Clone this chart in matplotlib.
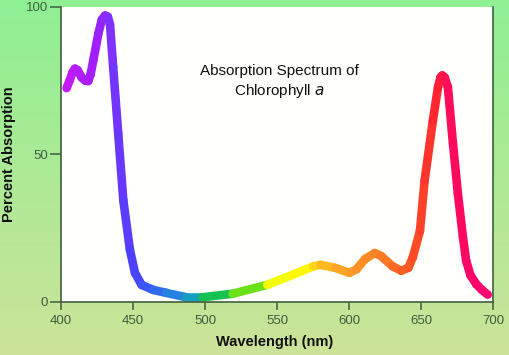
import numpy as np
import matplotlib
matplotlib.use("Agg")
import matplotlib.pyplot as plt
from matplotlib.collections import LineCollection
from matplotlib.colors import LinearSegmentedColormap, Normalize

plt.rcParams['font.family'] = ['Liberation Sans', 'DejaVu Sans']

# values
wavelength = [403.9, 406, 408, 409.7, 411.5, 414.3, 417, 418.9, 420.5, 422.4,
              425.9, 428.3, 430.5, 432.5, 434, 436.2, 439.7, 443.2, 447.8, 451.3,
              455.9, 464, 473, 487, 498, 519, 543, 560, 575, 580,
              590, 600, 605, 611, 617.6, 622, 630, 636, 641, 644,
              649, 652.2, 658, 661.5, 663.2, 664.5, 666.2, 668.4, 671.9, 675.3,
              678.8, 681, 684, 688, 692, 696]
absorption = [72.4, 75, 77.8, 79, 78.5, 76, 74.9, 74.8, 77, 81.8,
              90.8, 95.6, 97, 96.6, 94, 79.5, 57, 34.5, 17.6, 9.8,
              5.7, 4, 3, 1.5, 1.5, 2.7, 5.7, 9, 12, 12.5,
              11.5, 9.8, 11, 14.5, 16.5, 15.5, 12, 10.5, 11.5, 15,
              24, 41, 61.5, 72.7, 76, 76.7, 76, 72.7, 53.6, 36.7,
              22, 14, 9, 6, 4, 2.4]
x_ticks = [400, 450, 500, 550, 600, 650, 700]
y_ticks = [0, 50, 100]

# spectrum colours by wavelength
spec_nm = [400, 425, 435, 450, 465, 485, 495, 502, 515, 530, 545, 555, 574, 580, 600, 625, 645, 660, 670, 700]
spec_rgb = [(0.80, 0.10, 0.95), (0.62, 0.12, 1.0), (0.48, 0.20, 1.0), (0.30, 0.25, 1.0),
            (0.20, 0.38, 0.95), (0.12, 0.55, 0.85), (0.08, 0.65, 0.72), (0.05, 0.72, 0.45),
            (0.12, 0.80, 0.18), (0.40, 0.88, 0.10), (0.85, 0.96, 0.05), (1.0, 1.0, 0.0),
            (1.0, 0.95, 0.0), (1.0, 0.76, 0.12), (1.0, 0.62, 0.15), (1.0, 0.48, 0.15),
            (1.0, 0.32, 0.15), (1.0, 0.15, 0.18), (1.0, 0.05, 0.35), (1.0, 0.0, 0.45)]
pos = [(n - 400) / 300 for n in spec_nm]
cmap = LinearSegmentedColormap.from_list("spec", list(zip(pos, spec_rgb)))
norm = Normalize(400, 700)

fig = plt.figure(figsize=(5.1, 3.55), dpi=100)

# background gradient
bg = fig.add_axes([0, 0, 1, 1], zorder=-10)
top = np.array([0.56, 0.94, 0.58])
bot = np.array([0.80, 0.89, 0.60])
t = np.linspace(0, 1, 200)[:, None]
grad = top + (bot - top) * t
bg.imshow(np.repeat(grad[:, None, :], 2, axis=1), aspect='auto', extent=[0, 1, 0, 1])
bg.axis("off")

ax = fig.add_axes([0.1196, 0.1501, 0.848, 0.831])
ax.set_facecolor("#fffffb")

pts = np.column_stack([wavelength, absorption])
segs = np.stack([pts[:-1], pts[1:]], axis=1)
mids = (np.array(wavelength[:-1]) + np.array(wavelength[1:])) / 2
lc = LineCollection(segs, colors=cmap(norm(mids)), linewidths=6.2, capstyle='round', joinstyle='round')
ax.add_collection(lc)

ax.set_xlim(400, 700)
ax.set_ylim(0, 100)
ax.set_xticks(x_ticks)
ax.set_yticks(y_ticks)

axcol = "#3f5f3f"
for s in ["left", "bottom", "right"]:
    ax.spines[s].set_color(axcol)
    ax.spines[s].set_linewidth(1.2)
ax.spines["top"].set_visible(False)
ax.tick_params(axis="x", length=6, width=1.1, pad=3.5, colors=axcol, labelsize=9.5)
ax.tick_params(axis="y", length=8, width=1.1, pad=1.5, colors=axcol, labelsize=9.5)

ax.set_xlabel("Wavelength (nm)", fontsize=10.5, fontweight="bold", color="#111111")
ax.xaxis.set_label_coords(0.495, -0.113)
ax.set_ylabel("Percent Absorption", fontsize=10.5, fontweight="bold", color="#111111")
ax.yaxis.set_label_coords(-0.104, 0.5)

ax.text(0.506, 0.745, "Absorption Spectrum of\nChlorophyll $\\mathit{a}$", transform=ax.transAxes,
        ha="center", va="center", fontsize=11, linespacing=1.3, color="#111111")

fig.savefig("out.png", dpi=100)
